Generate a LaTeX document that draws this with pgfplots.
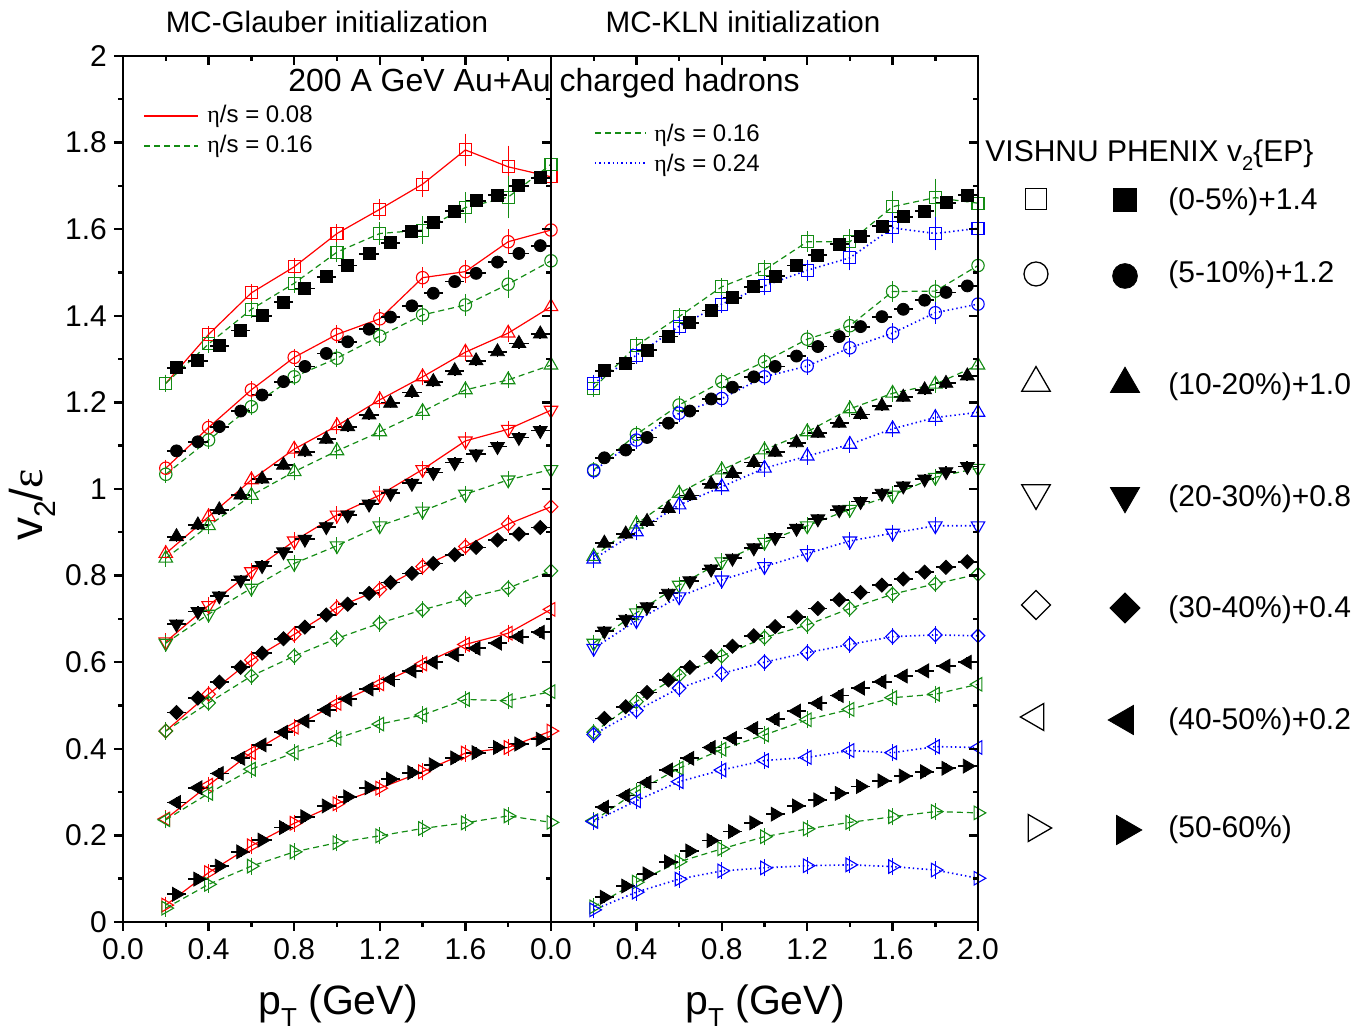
\documentclass[border=0pt]{standalone}
\usepackage{fontspec}
\setmainfont{Liberation Sans}
\newfontfamily\serifgr{Liberation Serif}
\usepackage{pgfplots}
\usepackage{pgfplotstable}
\pgfplotsset{compat=1.18}
\definecolor{mygreen}{RGB}{20,140,20}

% MC-Glauber, eta/s = 0.08
\pgfplotstableread{
x sq sqe ci cie tu td di tl tr
0.2 1.244 0.006 1.048 0.006 0.851 0.647 0.441 0.238 0.039
0.4 1.357 0.006 1.142 0.006 0.936 0.731 0.526 0.316 0.114
0.6 1.453 0.006 1.229 0.006 1.021 0.809 0.605 0.391 0.176
0.8 1.513 0.006 1.304 0.006 1.092 0.880 0.664 0.450 0.228
1.0 1.590 0.008 1.357 0.007 1.146 0.940 0.726 0.505 0.273
1.2 1.646 0.010 1.393 0.008 1.206 0.986 0.768 0.550 0.309
1.4 1.704 0.016 1.488 0.010 1.259 1.045 0.821 0.596 0.347
1.6 1.783 0.024 1.502 0.012 1.316 1.111 0.867 0.641 0.390
1.8 1.744 0.035 1.571 0.015 1.360 1.138 0.919 0.667 0.403
2.0 1.721 0.030 1.598 0.018 1.421 1.182 0.959 0.722 0.441
}\glA
% MC-Glauber, eta/s = 0.16
\pgfplotstableread{
x sq sqe ci cie tu td di tl tr
0.2 1.244 0.006 1.034 0.006 0.840 0.644 0.441 0.236 0.032
0.4 1.335 0.006 1.113 0.006 0.915 0.711 0.506 0.297 0.087
0.6 1.415 0.006 1.190 0.006 0.985 0.771 0.568 0.353 0.129
0.8 1.475 0.008 1.259 0.006 1.040 0.828 0.614 0.391 0.162
1.0 1.547 0.010 1.302 0.007 1.088 0.869 0.655 0.424 0.183
1.2 1.590 0.012 1.353 0.008 1.132 0.915 0.690 0.457 0.199
1.4 1.598 0.018 1.402 0.009 1.179 0.949 0.721 0.478 0.216
1.6 1.650 0.022 1.425 0.012 1.229 0.988 0.748 0.514 0.229
1.8 1.674 0.035 1.473 0.018 1.252 1.021 0.771 0.511 0.245
2.0 1.750 0.035 1.527 0.020 1.286 1.045 0.811 0.532 0.230
}\glB
% MC-KLN, eta/s = 0.16
\pgfplotstableread{
x sq sqe ci cie tu td di tl tr
0.2 1.233 0.006 1.044 0.005 0.844 0.644 0.438 0.234 0.035
0.4 1.331 0.006 1.126 0.006 0.919 0.714 0.509 0.301 0.092
0.6 1.398 0.006 1.194 0.006 0.990 0.778 0.570 0.355 0.139
0.8 1.467 0.006 1.248 0.006 1.044 0.832 0.614 0.399 0.169
1.0 1.506 0.008 1.294 0.007 1.090 0.877 0.657 0.432 0.197
1.2 1.571 0.010 1.346 0.008 1.132 0.915 0.686 0.467 0.215
1.4 1.571 0.015 1.377 0.009 1.185 0.953 0.724 0.491 0.230
1.6 1.652 0.022 1.456 0.010 1.221 0.986 0.757 0.518 0.243
1.8 1.673 0.030 1.457 0.012 1.242 1.027 0.781 0.526 0.255
2.0 1.660 0.030 1.516 0.015 1.286 1.048 0.803 0.549 0.252
}\klA
% MC-KLN, eta/s = 0.24
\pgfplotstableread{
x sq sqe ci cie tu td di tl tr
0.2 1.244 0.006 1.042 0.005 0.838 0.632 0.433 0.232 0.028
0.4 1.309 0.006 1.113 0.006 0.901 0.696 0.488 0.280 0.069
0.6 1.376 0.006 1.175 0.006 0.963 0.751 0.540 0.324 0.099
0.8 1.427 0.006 1.209 0.006 1.005 0.790 0.574 0.351 0.118
1.0 1.469 0.008 1.259 0.006 1.048 0.821 0.600 0.373 0.125
1.2 1.505 0.010 1.284 0.007 1.076 0.851 0.622 0.380 0.130
1.4 1.534 0.015 1.326 0.008 1.103 0.880 0.641 0.396 0.132
1.6 1.603 0.020 1.360 0.009 1.139 0.898 0.659 0.391 0.128
1.8 1.590 0.025 1.407 0.012 1.165 0.915 0.663 0.405 0.120
2.0 1.602 0.030 1.427 0.015 1.177 0.915 0.661 0.403 0.101
}\klB
% PHENIX, Glauber eccentricity
\pgfplotstableread{
x sq ci tu td di tl tr
0.25 1.280 1.088 0.890 0.688 0.484 0.276 0.064
0.35 1.296 1.109 0.917 0.717 0.517 0.310 0.099
0.45 1.331 1.144 0.952 0.753 0.554 0.343 0.129
0.55 1.366 1.180 0.986 0.790 0.588 0.378 0.162
0.65 1.400 1.217 1.023 0.823 0.621 0.409 0.189
0.75 1.431 1.248 1.055 0.855 0.654 0.438 0.218
0.85 1.463 1.283 1.086 0.884 0.681 0.464 0.243
0.95 1.490 1.313 1.115 0.913 0.709 0.490 0.268
1.05 1.516 1.340 1.144 0.940 0.734 0.515 0.289
1.15 1.543 1.369 1.171 0.965 0.759 0.538 0.310
1.25 1.569 1.397 1.198 0.990 0.784 0.560 0.330
1.35 1.596 1.423 1.223 1.013 0.805 0.580 0.345
1.45 1.616 1.452 1.248 1.038 0.828 0.600 0.363
1.55 1.642 1.479 1.273 1.061 0.848 0.617 0.379
1.65 1.666 1.498 1.296 1.081 0.865 0.632 0.391
1.75 1.679 1.524 1.317 1.098 0.882 0.644 0.403
1.85 1.700 1.544 1.336 1.119 0.896 0.659 0.411
1.95 1.719 1.562 1.358 1.135 0.911 0.669 0.422
}\phA
% PHENIX, KLN eccentricity
\pgfplotstableread{
x sq ci tu td di tl tr
0.25 1.273 1.072 0.875 0.672 0.470 0.265 0.057
0.35 1.290 1.090 0.896 0.699 0.497 0.292 0.083
0.45 1.321 1.119 0.925 0.728 0.530 0.322 0.111
0.55 1.352 1.152 0.955 0.759 0.559 0.351 0.139
0.65 1.384 1.180 0.985 0.788 0.588 0.378 0.164
0.75 1.412 1.208 1.011 0.815 0.613 0.403 0.188
0.85 1.442 1.235 1.036 0.840 0.637 0.424 0.209
0.95 1.467 1.259 1.061 0.864 0.661 0.447 0.229
1.05 1.492 1.283 1.085 0.888 0.682 0.468 0.249
1.15 1.516 1.307 1.107 0.909 0.704 0.487 0.268
1.25 1.540 1.329 1.129 0.931 0.724 0.505 0.282
1.35 1.565 1.352 1.152 0.952 0.744 0.523 0.297
1.45 1.584 1.375 1.172 0.971 0.761 0.540 0.313
1.55 1.607 1.398 1.192 0.990 0.778 0.555 0.326
1.65 1.629 1.415 1.212 1.007 0.792 0.568 0.337
1.75 1.642 1.436 1.229 1.023 0.808 0.580 0.347
1.85 1.661 1.454 1.244 1.040 0.819 0.591 0.355
1.95 1.679 1.469 1.261 1.052 0.832 0.600 0.360
}\phB

\pgfplotsset{
 mo/.style={mark options={solid,line width=0.55pt,#1}},
 red08/.style={red, solid, line width=0.6pt},
 grn16/.style={mygreen, dash pattern=on 3pt off 2pt, line width=0.6pt},
 blu24/.style={blue, dash pattern=on 0.7pt off 1.5pt, line width=0.8pt},
 errcom/.style={error bars/y dir=both, error bars/error mark options={solid,line width=0.5pt,mark size=3pt}, error bars/error bar style={solid,line width=0.5pt}},
 yexp/.style={errcom, error bars/y explicit},
 yfix/.style={errcom, error bars/y fixed=0.006},
 dat/.style={only marks, black, error bars/x dir=both, error bars/x fixed=0.045, error bars/y dir=both, error bars/y fixed=0.012, error bars/error mark=none, error bars/error bar style={line width=0.9pt}},
 panel/.style={scale only axis, height=433pt, anchor=south west,
   xmin=0, xmax=2, ymin=0, ymax=2,
   axis line style={line width=1.2pt},
   major tick style={line width=1.2pt, black}, minor tick style={line width=1.2pt, black},
   major tick length=4.5pt, minor tick length=2.5pt,
   minor x tick num=1, minor y tick num=1,
   ytick={0,0.2,0.4,0.6,0.8,1,1.2,1.4,1.6,1.8,2},
   tick label style={font=\fontsize{15}{15}\selectfont},
 },
 overlay/.style={panel, tick align=inside, xtick pos=right, ytick pos=right,
   xtick={0,0.4,0.8,1.2,1.6,2}, xticklabel=\empty, yticklabel=\empty},
}

\newcommand{\modelplots}[2]{%
\addplot[#2, mark=square, mark size=3pt, mo={}, yexp] table[x=x,y=sq,y error=sqe]{#1};
\addplot[#2, mark=o, mark size=3.1pt, mo={}, yexp] table[x=x,y=ci,y error=cie]{#1};
\addplot[#2, mark=triangle, mark size=3.9pt, mo={}, yfix] table[x=x,y=tu]{#1};
\addplot[#2, mark=triangle, mark size=3.9pt, mo={rotate=180}, yfix] table[x=x,y=td]{#1};
\addplot[#2, mark=square, mark size=2.4pt, mo={rotate=45}, yfix] table[x=x,y=di]{#1};
\addplot[#2, mark=triangle, mark size=3.9pt, mo={rotate=90}, yfix] table[x=x,y=tl]{#1};
\addplot[#2, mark=triangle, mark size=3.9pt, mo={rotate=-90}, yfix] table[x=x,y=tr]{#1};
}
\newcommand{\dataplots}[1]{%
\addplot[dat, mark=square*, mark size=3pt] table[x=x,y=sq]{#1};
\addplot[dat, mark=*, mark size=3pt] table[x=x,y=ci]{#1};
\addplot[dat, mark=triangle*, mark size=4pt] table[x=x,y=tu]{#1};
\addplot[dat, mark=triangle*, mark size=4pt, mark options={rotate=180}] table[x=x,y=td]{#1};
\addplot[dat, mark=square*, mark size=2.5pt, mark options={rotate=45}] table[x=x,y=di]{#1};
\addplot[dat, mark=triangle*, mark size=4pt, mark options={rotate=90}] table[x=x,y=tl]{#1};
\addplot[dat, mark=triangle*, mark size=4pt, mark options={rotate=-90}] table[x=x,y=tr]{#1};
}

\begin{document}
\begin{tikzpicture}
\useasboundingbox (0,0) rectangle (683.5pt,516pt);
% ---------- left panel ----------
\begin{axis}[panel, at={(61.5pt,55pt)}, width=214pt, tick align=outside,
  xtick pos=left, ytick pos=left,
  xtick={0,0.4,0.8,1.2,1.6,2}, xticklabels={0.0,0.4,0.8,1.2,1.6,{}},
  yticklabels={0,0.2,0.4,0.6,0.8,1,1.2,1.4,1.6,1.8,2}]
\modelplots{\glA}{red08}
\modelplots{\glB}{grn16}
\dataplots{\phA}
\end{axis}
\begin{axis}[overlay, at={(61.5pt,55pt)}, width=214pt]
\end{axis}
% ---------- right panel ----------
\begin{axis}[panel, at={(275.5pt,55pt)}, width=213.5pt, tick align=outside,
  xtick pos=left, ytick=\empty,
  xtick={0,0.4,0.8,1.2,1.6,2}, xticklabels={0.0,0.4,0.8,1.2,1.6,2.0}]
\modelplots{\klA}{grn16}
\modelplots{\klB}{blu24}
\dataplots{\phB}
\end{axis}
\begin{axis}[overlay, at={(275.5pt,55pt)}, width=213.5pt]
\end{axis}
% ---------- annotations and legends (canvas in pixel units) ----------
\begin{axis}[at={(0pt,0pt)}, anchor=south west, scale only axis, width=683.5pt, height=516pt,
  xmin=0, xmax=1367, ymin=0, ymax=1032, hide axis, clip=false]
\node[anchor=base, font=\fontsize{14.8}{17}\selectfont] at (axis cs:327,999) {MC-Glauber initialization};
\node[anchor=base, font=\fontsize{14.8}{17}\selectfont] at (axis cs:743,999) {MC-KLN initialization};
\node[anchor=base, font=\fontsize{16}{19}\selectfont] at (axis cs:544,940) {200 A GeV Au+Au charged hadrons};
% left legend
\addplot[red08] coordinates {(144,916) (198,916)};
\addplot[grn16] coordinates {(144,886) (198,886)};
\node[anchor=base west, inner sep=0pt, font=\fontsize{12}{14}\selectfont] at (axis cs:207,909) {{\serifgr η}/s = 0.08};
\node[anchor=base west, inner sep=0pt, font=\fontsize{12}{14}\selectfont] at (axis cs:207,879) {{\serifgr η}/s = 0.16};
% right-panel legend
\addplot[grn16] coordinates {(595,899) (646,899)};
\addplot[blu24] coordinates {(595,869) (646,869)};
\node[anchor=base west, inner sep=0pt, font=\fontsize{12}{14}\selectfont] at (axis cs:654,890) {{\serifgr η}/s = 0.16};
\node[anchor=base west, inner sep=0pt, font=\fontsize{12}{14}\selectfont] at (axis cs:654,860) {{\serifgr η}/s = 0.24};
% centrality legend
\node[anchor=base west, inner sep=0pt, font=\fontsize{15}{18}\selectfont] at (axis cs:985,870) {VISHNU PHENIX v\raisebox{-0.55ex}{\fontsize{10}{10}\selectfont 2}\{EP\}};
\addplot[only marks, black, mark=square, mark size=5.4pt, mark options={line width=0.65pt}] coordinates {(1036,833)};
\addplot[only marks, black, mark=square*, mark size=5.8pt] coordinates {(1125,832)};
\addplot[only marks, black, mark=o, mark size=6pt, mark options={line width=0.65pt}] coordinates {(1036,758)};
\addplot[only marks, black, mark=*, mark size=6.2pt] coordinates {(1125,756)};
\addplot[only marks, black, mark=triangle, mark size=8.2pt, mark options={line width=0.65pt}] coordinates {(1036,649)};
\addplot[only marks, black, mark=triangle*, mark size=8.4pt] coordinates {(1125,648)};
\addplot[only marks, black, mark=triangle, mark size=8.2pt, mark options={line width=0.65pt, rotate=180}] coordinates {(1036,539)};
\addplot[only marks, black, mark=triangle*, mark size=8.4pt, mark options={rotate=180}] coordinates {(1125,536)};
\addplot[only marks, black, mark=square, mark size=5.1pt, mark options={line width=0.65pt, rotate=45}] coordinates {(1036,427)};
\addplot[only marks, black, mark=square*, mark size=5.3pt, mark options={rotate=45}] coordinates {(1125,424)};
\addplot[only marks, black, mark=triangle, mark size=7.8pt, mark options={line width=0.65pt, rotate=90}] coordinates {(1036,315)};
\addplot[only marks, black, mark=triangle*, mark size=8.4pt, mark options={rotate=90}] coordinates {(1125,312)};
\addplot[only marks, black, mark=triangle, mark size=7.8pt, mark options={line width=0.65pt, rotate=-90}] coordinates {(1036,204)};
\addplot[only marks, black, mark=triangle*, mark size=8.4pt, mark options={rotate=-90}] coordinates {(1125,202)};
\node[anchor=base west, inner sep=0pt, font=\fontsize{15}{18}\selectfont] at (axis cs:1168,822) {(0-5\%)+1.4};
\node[anchor=base west, inner sep=0pt, font=\fontsize{15}{18}\selectfont] at (axis cs:1168,749) {(5-10\%)+1.2};
\node[anchor=base west, inner sep=0pt, font=\fontsize{15}{18}\selectfont] at (axis cs:1168,637) {(10-20\%)+1.0};
\node[anchor=base west, inner sep=0pt, font=\fontsize{15}{18}\selectfont] at (axis cs:1168,525) {(20-30\%)+0.8};
\node[anchor=base west, inner sep=0pt, font=\fontsize{15}{18}\selectfont] at (axis cs:1168,414) {(30-40\%)+0.4};
\node[anchor=base west, inner sep=0pt, font=\fontsize{15}{18}\selectfont] at (axis cs:1168,302) {(40-50\%)+0.2};
\node[anchor=base west, inner sep=0pt, font=\fontsize{15}{18}\selectfont] at (axis cs:1168,194) {(50-60\%)};
% axis labels
\node[rotate=90, anchor=base, font=\fontsize{23}{27}\selectfont] at (axis cs:43,527) {v\raisebox{-0.5ex}{\fontsize{15}{15}\selectfont 2}/{\serifgr ε}};
\node[anchor=base, font=\fontsize{20.5}{24}\selectfont] at (axis cs:338,17) {p\raisebox{-0.55ex}{\fontsize{13}{13}\selectfont T} (GeV)};
\node[anchor=base, font=\fontsize{20.5}{24}\selectfont] at (axis cs:765,17) {p\raisebox{-0.55ex}{\fontsize{13}{13}\selectfont T} (GeV)};
\end{axis}
\end{tikzpicture}
\end{document}
